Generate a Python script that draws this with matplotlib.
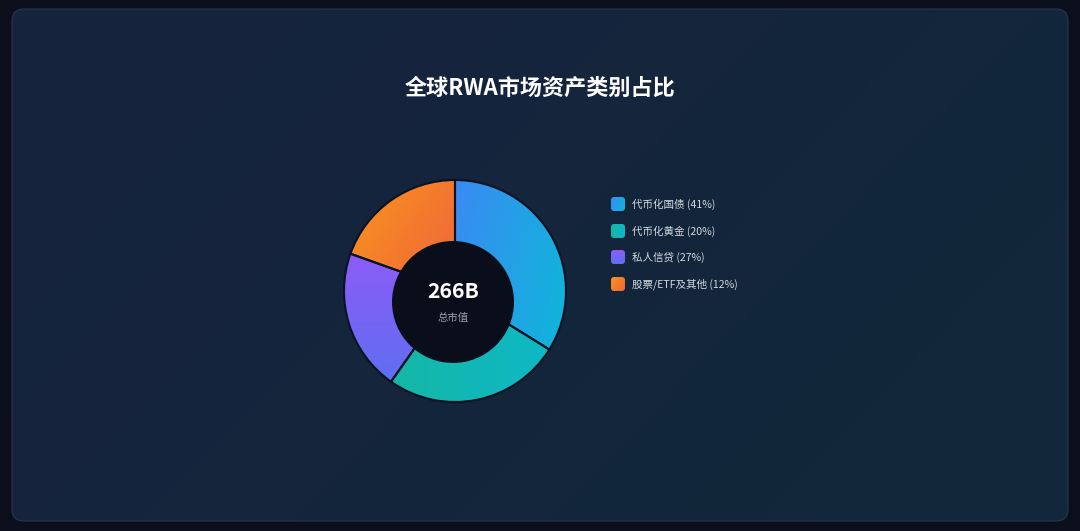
import numpy as np
import matplotlib
matplotlib.use("Agg")
import matplotlib.pyplot as plt
from matplotlib.colors import to_rgb
from matplotlib.patches import FancyBboxPatch, Circle

plt.rcParams['font.family'] = ['Noto Sans CJK SC', 'DejaVu Sans']

# data (billions) and labels
categories = ["代币化国债", "代币化黄金", "私人信贷", "股票/ETF及其他"]
label_pcts = [41, 20, 27, 12]
values = [90, 69, 55, 52]
total_label = "266B"

# gradient pairs per slice (start, end, direction in degrees)
GRADS = [
    ("#3b8af3", "#0db7d9", -20),
    ("#14b8a6", "#0fb7c6", 0),
    ("#8c5cf6", "#5f6ef2", -90),
    ("#f8961c", "#f0633d", -35),
]

W, H = 1080, 531
BG = "#0a0f1b"


def grad_img(c1, c2, angle, n=200):
    a = np.deg2rad(angle)
    xs, ys = np.meshgrid(np.linspace(-1, 1, n), np.linspace(1, -1, n))
    t = xs * np.cos(a) + ys * np.sin(a)
    t = (t - t.min()) / (t.max() - t.min())
    c1, c2 = np.array(to_rgb(c1)), np.array(to_rgb(c2))
    return c1 + (c2 - c1) * t[..., None]


fig = plt.figure(figsize=(W / 100, H / 100), dpi=100, facecolor=BG)
ax = fig.add_axes([0, 0, 1, 1])
ax.set_xlim(0, W)
ax.set_ylim(H, 0)
ax.axis("off")
ax.set_facecolor(BG)

# card with a soft diagonal gradient
card = FancyBboxPatch((12, 9), 1056, 512, boxstyle="round,pad=0,rounding_size=12",
                      facecolor="none", edgecolor="#243149", linewidth=1.0, zorder=3)
ax.add_patch(card)
img = ax.imshow(grad_img("#17233e", "#11283a", -25), extent=(12, 1068, 521, 9),
                zorder=2, aspect="auto")
img.set_clip_path(card)

ax.text(540, 88, "全球RWA市场资产类别占比", color="white", fontsize=15.9,
        fontweight="bold", ha="center", va="center", zorder=5)

# legend
leg_y = [204, 231, 257, 284]
for (c1, c2, ang), cat, pct, y in zip(GRADS, categories, label_pcts, leg_y):
    sw = FancyBboxPatch((611, y - 7), 14, 14, boxstyle="round,pad=0,rounding_size=3",
                        facecolor="none", edgecolor="none", zorder=5)
    ax.add_patch(sw)
    im = ax.imshow(grad_img(c1, c2, ang, 40), extent=(611, 625, y + 7, y - 7),
                   zorder=4, aspect="auto")
    im.set_clip_path(sw)
    ax.text(632, y, f"{cat} ({pct}%)", color="#d3d8e0", fontsize=7.6,
            ha="left", va="center", zorder=5)

# donut
cx, cy, R = 455, 291, 111
S = 120
pax = fig.add_axes([(cx - S) / W, (H - cy - S) / H, 2 * S / W, 2 * S / H])
pax.set_xlim(-S, S)
pax.set_ylim(-S, S)
pax.axis("off")
wedges, _ = pax.pie(values, radius=R, startangle=90, counterclock=False,
                    wedgeprops=dict(facecolor="none", edgecolor="#0b1322",
                                    linewidth=1.5))
for w, (c1, c2, ang) in zip(wedges, GRADS):
    w.set_zorder(3)
    bb = w.get_path().get_extents()
    im = pax.imshow(grad_img(c1, c2, ang), extent=(bb.x0, bb.x1, bb.y0, bb.y1),
                    zorder=2, aspect="auto")
    im.set_clip_path(w)
pax.set_xlim(-S, S)
pax.set_ylim(-S, S)

hole = Circle((453 - cx, -(302 - cy)), 61, facecolor="#0a0e1a", edgecolor="none",
              zorder=4)
pax.add_patch(hole)

fig.text(453 / W, 1 - 291 / H, total_label, color="white", fontsize=15.3,
         fontweight="bold", ha="center", va="center")
fig.text(453 / W, 1 - 318 / H, "总市值", color="#9aa3b2", fontsize=7.5,
         ha="center", va="center")

fig.savefig("out.png", dpi=100, facecolor=BG)
